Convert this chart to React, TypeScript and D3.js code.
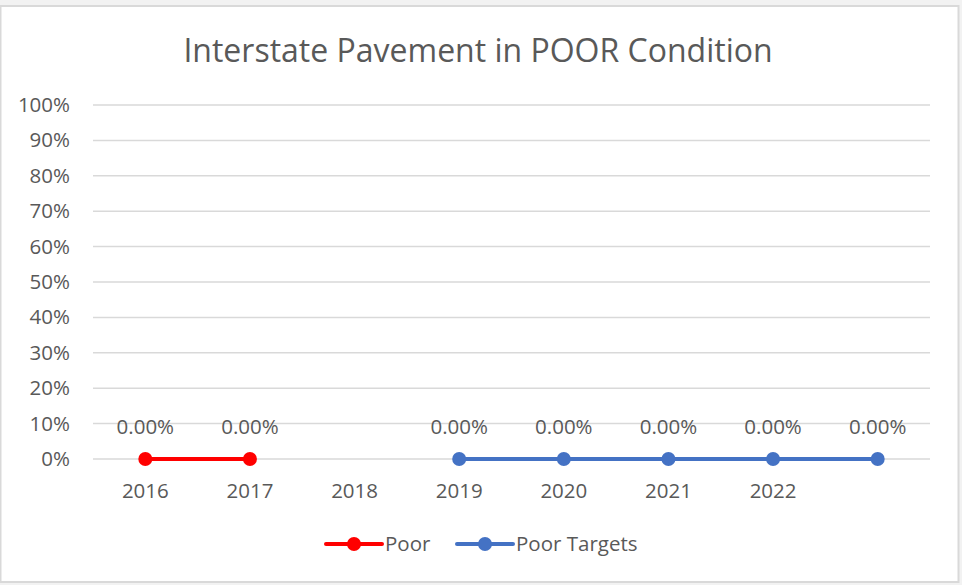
import React, { useEffect, useRef } from "react";
import * as d3 from "d3";

const categories = ["2016", "2017", "2018", "2019", "2020", "2021", "2022", ""];
const poor = [0, 0, null, null, null, null, null, null];
const poorTargets = [null, null, null, 0, 0, 0, 0, 0];
const yTicks = [0, 0.1, 0.2, 0.3, 0.4, 0.5, 0.6, 0.7, 0.8, 0.9, 1];

const width = 962;
const height = 585;
const font = "'Open Sans', sans-serif";
const textColor = "#595959";
const labelSize = 20.5;

export default function App() {
  const ref = useRef(null);

  useEffect(() => {
    const svg = d3.select(ref.current);
    svg.selectAll("*").remove();

    // page background + chart frame
    svg.append("rect").attr("width", width).attr("height", height).attr("fill", "#f2f2f2");
    svg
      .append("rect")
      .attr("x", 0.5)
      .attr("y", 6)
      .attr("width", 958)
      .attr("height", 576)
      .attr("fill", "#fff")
      .attr("stroke", "#d9d9d9")
      .attr("stroke-width", 2);

    const margin = { top: 105, left: 93, right: 32, bottom: 126 };
    const innerW = width - margin.left - margin.right;
    const innerH = height - margin.top - margin.bottom;

    const x = d3.scaleBand().domain(categories.map((c, i) => i + "")).range([0, innerW]);
    const y = d3.scaleLinear().domain([0, 1]).range([innerH, 0]);
    const cx = (i) => x(i + "") + x.bandwidth() / 2;

    const g = svg.append("g").attr("transform", `translate(${margin.left},${margin.top})`);

    svg
      .append("text")
      .attr("x", 478)
      .attr("y", 62)
      .attr("text-anchor", "middle")
      .attr("fill", textColor)
      .attr("font-family", font)
      .attr("font-size", 32)
      .text("Interstate Pavement in POOR Condition");

    // gridlines
    g.selectAll(".grid")
      .data(yTicks)
      .enter()
      .append("line")
      .attr("x1", 0)
      .attr("x2", innerW)
      .attr("y1", (d) => y(d))
      .attr("y2", (d) => y(d))
      .attr("stroke", "#d9d9d9")
      .attr("stroke-width", 1.5);

    const yAxis = d3.axisLeft(y).tickValues(yTicks).tickFormat(d3.format(".0%")).tickSize(0).tickPadding(23);
    const yAxisG = g.append("g").call(yAxis);
    yAxisG.select(".domain").remove();
    yAxisG.selectAll("text").attr("font-family", font).attr("font-size", labelSize).attr("fill", textColor);

    const xAxis = d3
      .axisBottom(x)
      .tickFormat((d) => categories[+d])
      .tickSize(0)
      .tickPadding(24);
    const xAxisG = g.append("g").attr("transform", `translate(0,${innerH})`).call(xAxis);
    xAxisG.select(".domain").remove();
    xAxisG.selectAll("text").attr("font-family", font).attr("font-size", labelSize).attr("fill", textColor);

    const series = [
      { name: "Poor", values: poor, color: "#ff0000" },
      { name: "Poor Targets", values: poorTargets, color: "#4472c4" },
    ];

    const line = d3
      .line()
      .defined((d) => d != null)
      .x((d, i) => cx(i))
      .y((d) => y(d));

    series.forEach((s) => {
      g.append("path")
        .datum(s.values)
        .attr("d", line)
        .attr("fill", "none")
        .attr("stroke", s.color)
        .attr("stroke-width", 4)
        .attr("stroke-linecap", "round");

      const pts = s.values.map((v, i) => ({ v, i })).filter((p) => p.v != null);
      g.selectAll(null)
        .data(pts)
        .enter()
        .append("circle")
        .attr("cx", (p) => cx(p.i))
        .attr("cy", (p) => y(p.v))
        .attr("r", 7)
        .attr("fill", s.color);

      g.selectAll(null)
        .data(pts)
        .enter()
        .append("text")
        .attr("x", (p) => cx(p.i))
        .attr("y", (p) => y(p.v) - 25)
        .attr("text-anchor", "middle")
        .attr("font-family", font)
        .attr("font-size", labelSize)
        .attr("fill", textColor)
        .text((p) => d3.format(".2%")(p.v));
    });

    // legend
    const legendItems = [
      { x: 326, w: 56, label: "Poor", color: "#ff0000" },
      { x: 457, w: 56, label: "Poor Targets", color: "#4472c4" },
    ];
    const lg = svg.append("g").attr("transform", "translate(0,544)");
    legendItems.forEach((it) => {
      lg.append("line")
        .attr("x1", it.x)
        .attr("x2", it.x + it.w)
        .attr("stroke", it.color)
        .attr("stroke-width", 4)
        .attr("stroke-linecap", "round");
      lg.append("circle").attr("cx", it.x + it.w / 2).attr("r", 7).attr("fill", it.color);
      lg.append("text")
        .attr("x", it.x + it.w + 3)
        .attr("dy", "0.35em")
        .attr("font-family", font)
        .attr("font-size", labelSize)
        .attr("fill", textColor)
        .text(it.label);
    });
  }, []);

  return (
    <div style={{ position: "absolute", left: 0, top: 0 }}>
      <svg ref={ref} width={width} height={height} style={{ display: "block" }} />
    </div>
  );
}
